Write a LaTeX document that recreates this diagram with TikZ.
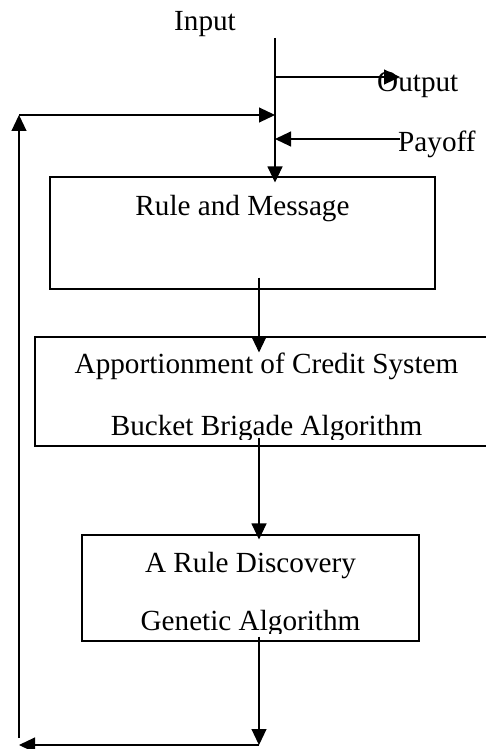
\documentclass[tikz,border=0pt]{standalone}
\usepackage{fontspec}
\setmainfont{Liberation Serif}
\usetikzlibrary{arrows.meta}

\begin{document}
\begin{tikzpicture}[
    x=1pt, y=-1pt,
    box/.style={rectangle, draw=black, line width=1.1pt, inner sep=0pt},
    lbl/.style={inner sep=0pt, anchor=base, font=\fontsize{29.2}{35}\selectfont},
    arrow/.style={-{Triangle[length=16pt, width=15pt]}, line width=1.1pt}
]
\useasboundingbox (0,0) rectangle (486,749);

\node[box, minimum width=385pt, minimum height=112pt] (rules)  at (242.5,233)   {};
\node[box, minimum width=453pt, minimum height=109pt] (credit) at (261.5,391.5) {};
\node[box, minimum width=337pt, minimum height=106pt] (discov) at (250.5,588)   {};

\node[lbl] (input)  at (205,30.5)  {Input};
\node[lbl, anchor=base west] (output) at (377,91.5) {Output};
\node[lbl, anchor=base west] (payoff) at (398,151)  {Payoff};
\node[lbl] (rulestxt) at (242.5,215) {Rule and Message};

\begin{scope}
\clip (credit.north west) rectangle ([yshift=7pt]credit.south east);
\node[lbl] (credit1) at (266.5,373) {Apportionment of Credit System};
\node[lbl] (credit2) at (266.5,435) {Bucket Brigade Algorithm};
\end{scope}

\begin{scope}
\clip (discov.north west) rectangle ([yshift=8pt]discov.south east);
\node[lbl] (discov1) at (250.5,572) {A Rule Discovery};
\node[lbl] (discov2) at (250.5,630) {Genetic Algorithm};
\end{scope}

\coordinate (intop)    at (275,38);
\coordinate (outtip)   at (400,77);
\coordinate (paystart) at (400,139);
\coordinate (fbtop)    at (19,115);
\coordinate (spine)    at (259,0);
\coordinate (gaout)    at (259,745);
\coordinate (fbcorner) at (19,745);

\draw[arrow] (intop) -- ([yshift=-6pt]intop |- rules.north);
\draw[arrow] (intop |- outtip) -- (outtip);
\draw[arrow] (paystart) -- (intop |- paystart);
\draw[arrow] (fbtop) -- (intop |- fbtop);

\draw[arrow] ([yshift=12pt]spine |- rules.south) -- ([yshift=-16pt]spine |- credit.north);
\draw[arrow] ([yshift=9pt]spine |- credit.south) -- ([yshift=-5pt]spine |- discov.north);
\draw[arrow] ([yshift=5pt]spine |- discov.south) -- (gaout);
\draw[arrow] (gaout) -- (fbcorner);
\draw[arrow] ([yshift=7pt]fbcorner) -- (fbtop);

\end{tikzpicture}
\end{document}
